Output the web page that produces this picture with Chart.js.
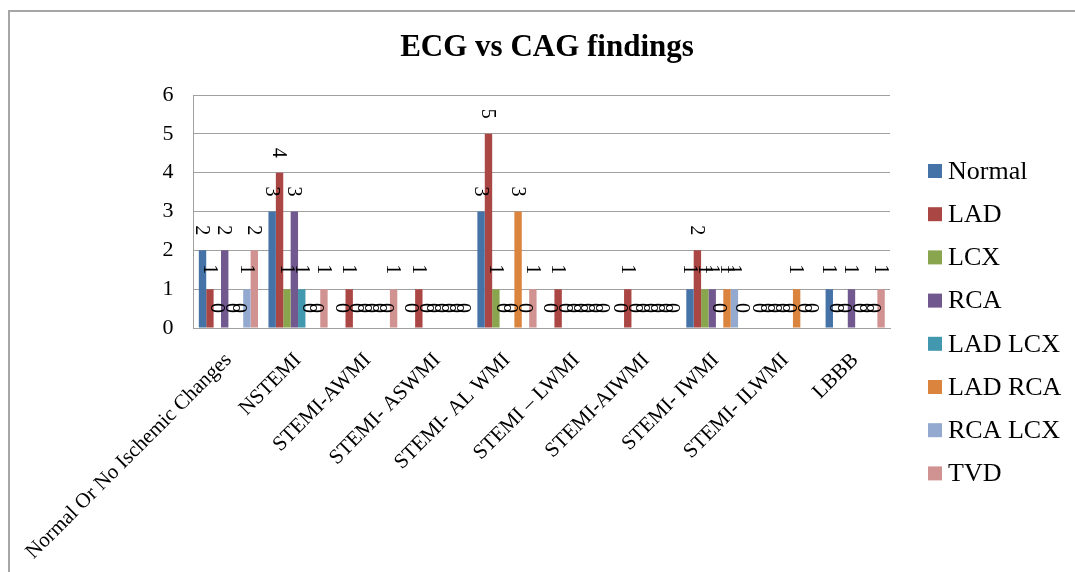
<!DOCTYPE html>
<html>
<head>
<meta charset="utf-8">
<title>ECG vs CAG findings</title>
<script src="https://cdn.jsdelivr.net/npm/chart.js@4.4.1/dist/chart.umd.min.js"></script>
<style>
  html, body { margin: 0; padding: 0; background: #ffffff; }
  #wrap { width: 1075px; height: 572px; position: relative; }
</style>
</head>
<body>
<div id="wrap"><canvas id="chart" width="1075" height="572"></canvas></div>
<script>
// ECG pattern groups on the x axis
const categories = [
  'Normal Or No Ischemic Changes', 'NSTEMI', 'STEMI-AWMI', 'STEMI- ASWMI',
  'STEMI- AL WMI', 'STEMI \u2013 LWMI', 'STEMI-AIWMI', 'STEMI- IWMI',
  'STEMI- ILWMI', 'LBBB'
];

// CAG finding series (patient counts per ECG group)
const seriesNames = ['Normal', 'LAD', 'LCX', 'RCA', 'LAD LCX', 'LAD RCA', 'RCA LCX', 'TVD'];
const normalCounts = [2, 3, 0, 0, 3, 0, 0, 1, 0, 1];
const ladCounts    = [1, 4, 1, 1, 5, 1, 1, 2, 0, 0];
const lcxCounts    = [0, 1, 0, 0, 1, 0, 0, 1, 0, 0];
const rcaCounts    = [2, 3, 0, 0, 0, 0, 0, 1, 0, 1];
const ladLcxCounts = [0, 1, 0, 0, 0, 0, 0, 0, 0, 0];
const ladRcaCounts = [0, 0, 0, 0, 3, 0, 0, 1, 1, 0];
const rcaLcxCounts = [1, 0, 0, 0, 0, 0, 0, 1, 0, 0];
const tvdCounts    = [2, 1, 1, 0, 1, 0, 0, 0, 0, 1];

// y axis ticks
const yTickValues = [0, 1, 2, 3, 4, 5, 6];

const chartTitle = 'ECG vs CAG findings';

const seriesValues = [normalCounts, ladCounts, lcxCounts, rcaCounts, ladLcxCounts, ladRcaCounts, rcaLcxCounts, tvdCounts];
const seriesColors = ['#4572A7', '#AA4643', '#89A54E', '#71588F', '#4198AF', '#DB843D', '#93A9CF', '#D19392'];

const SERIF = "'Liberation Serif', 'Times New Roman', serif";

// white background, outer frame and the title centred on the whole canvas
const framePlugin = {
  id: 'frame',
  beforeDraw(chart) {
    const ctx = chart.ctx;
    ctx.save();
    ctx.fillStyle = '#ffffff';
    ctx.fillRect(0, 0, chart.width, chart.height);
    ctx.strokeStyle = '#a6a6a6';
    ctx.lineWidth = 2;
    ctx.beginPath();
    ctx.moveTo(9, chart.height + 5);
    ctx.lineTo(9, 11);
    ctx.lineTo(chart.width + 5, 11);
    ctx.stroke();

    ctx.fillStyle = '#000000';
    ctx.font = 'bold 31px ' + SERIF;
    ctx.textAlign = 'center';
    ctx.textBaseline = 'middle';
    ctx.fillText(chartTitle, 547, 48);
    ctx.restore();
  }
};

// value labels above each bar, rotated to read top-to-bottom
const valueLabelPlugin = {
  id: 'valueLabels',
  afterDatasetsDraw(chart) {
    const ctx = chart.ctx;
    ctx.save();
    ctx.font = '20px ' + SERIF;
    ctx.fillStyle = '#000000';
    ctx.textAlign = 'center';
    ctx.textBaseline = 'middle';
    chart.data.datasets.forEach((ds, di) => {
      const meta = chart.getDatasetMeta(di);
      meta.data.forEach((bar, i) => {
        ctx.save();
        ctx.translate(bar.x, bar.y - 20);
        ctx.rotate(Math.PI / 2);
        ctx.fillText(String(ds.data[i]), 0, 1);
        ctx.restore();
      });
    });
    ctx.restore();
  }
};

// legend column on the right
const legendPlugin = {
  id: 'sideLegend',
  afterDraw(chart) {
    const ctx = chart.ctx;
    const area = chart.chartArea;
    ctx.save();
    ctx.font = '26px ' + SERIF;
    ctx.textBaseline = 'middle';
    ctx.textAlign = 'left';
    chart.data.datasets.forEach((ds, i) => {
      const cy = 171 + i * 43.2;
      const bx = area.right + 38;
      ctx.fillStyle = ds.backgroundColor;
      ctx.fillRect(bx, cy - 7, 14, 14);
      ctx.fillStyle = '#000000';
      ctx.fillText(ds.label, bx + 20, cy + 1);
    });
    ctx.restore();
  }
};

const datasets = seriesNames.map((name, i) => ({
  label: name,
  data: seriesValues[i],
  backgroundColor: seriesColors[i],
  borderWidth: 0,
  categoryPercentage: 0.85,
  barPercentage: 1.0
}));

new Chart(document.getElementById('chart'), {
  type: 'bar',
  data: { labels: categories, datasets },
  plugins: [framePlugin, valueLabelPlugin, legendPlugin],
  options: {
    responsive: false,
    animation: false,
    devicePixelRatio: 1,
    layout: { padding: { top: 95, left: 0, right: 185, bottom: 0 } },
    plugins: {
      legend: { display: false },
      tooltip: { enabled: false },
      title: { display: false }
    },
    scales: {
      x: {
        grid: { display: false, drawTicks: false },
        border: { display: true, color: '#a0a0a0', width: 1 },
        ticks: {
          color: '#000000',
          font: { family: SERIF, size: 21 },
          minRotation: 45,
          maxRotation: 45,
          autoSkip: false,
          padding: 20
        },
        afterFit(scale) { scale.height = 244; }
      },
      y: {
        min: yTickValues[0],
        max: yTickValues[yTickValues.length - 1],
        afterBuildTicks(scale) { scale.ticks = yTickValues.map(v => ({ value: v })); },
        grid: { color: '#a0a0a0', lineWidth: 1, drawTicks: false },
        border: { display: true, color: '#a0a0a0', width: 1 },
        ticks: {
          color: '#000000',
          font: { family: SERIF, size: 22 },
          padding: 20,
          stepSize: 1
        },
        afterFit(scale) { scale.width = 193; }
      }
    }
  }
});
</script>
</body>
</html>
